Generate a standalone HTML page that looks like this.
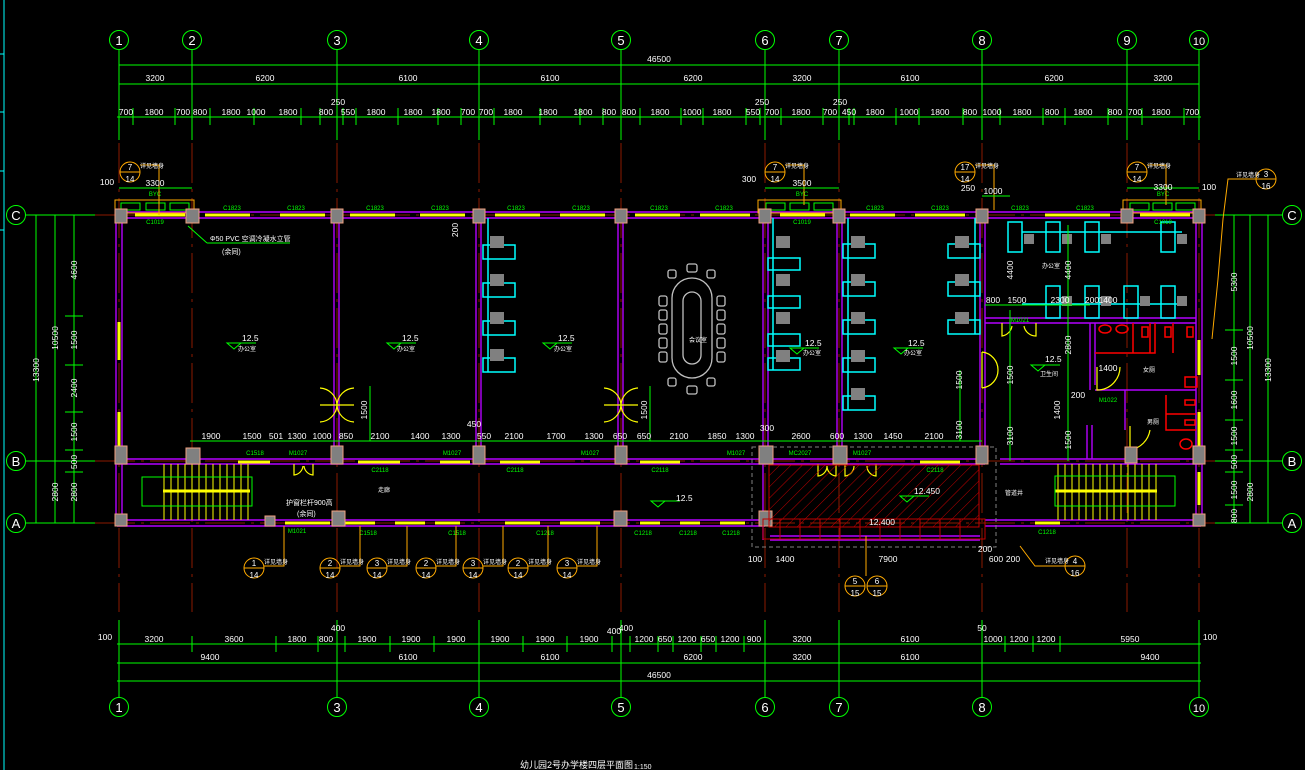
<!DOCTYPE html>
<html><head><meta charset="utf-8"><style>
html,body{margin:0;padding:0;background:#000;}
svg{display:block;}
text{font-family:"Liberation Sans","Noto Sans CJK SC",sans-serif;}
.w{fill:#fff;font-size:8.5px;}
.g{fill:#00ff00;font-size:6px;}
.gl{stroke:#00ff00;stroke-width:1;fill:none;}
.rd{stroke:#8b1a00;stroke-width:1;stroke-dasharray:40 6 3 6;}
.mg{stroke:#b400ff;stroke-width:1.4;fill:none;}
.yl{stroke:#ffff00;stroke-width:3;}
.cy{stroke:#00ffff;stroke-width:1.5;fill:none;}
.col{fill:#808080;stroke:#f0a080;stroke-width:1;}
.or{stroke:#ffaa00;fill:none;stroke-width:1;}
.gy{stroke:#c0c0c0;fill:none;stroke-width:1.3;}
.red{stroke:#ff0000;fill:none;stroke-width:1.5;}
</style></head><body>
<svg width="1305" height="770" viewBox="0 0 1305 770" xmlns="http://www.w3.org/2000/svg">
<rect width="1305" height="770" fill="#000"/>
<line x1="4" y1="0" x2="4" y2="770" stroke="#00ffff"/>
<line x1="0" y1="54" x2="4" y2="54" stroke="#00ffff"/><line x1="0" y1="112" x2="4" y2="112" stroke="#00ffff"/><line x1="0" y1="171" x2="4" y2="171" stroke="#00ffff"/><line x1="0" y1="230" x2="4" y2="230" stroke="#00ffff"/>

<g class="gl">
<line x1="119" y1="50" x2="119" y2="140"/><line x1="192" y1="50" x2="192" y2="140"/><line x1="337" y1="50" x2="337" y2="140"/><line x1="479" y1="50" x2="479" y2="140"/><line x1="621" y1="50" x2="621" y2="140"/><line x1="765" y1="50" x2="765" y2="140"/><line x1="839" y1="50" x2="839" y2="140"/><line x1="982" y1="50" x2="982" y2="140"/><line x1="1127" y1="50" x2="1127" y2="140"/><line x1="1199" y1="50" x2="1199" y2="140"/>
<line x1="119" y1="620" x2="119" y2="697"/><line x1="337" y1="620" x2="337" y2="697"/><line x1="479" y1="620" x2="479" y2="697"/><line x1="621" y1="620" x2="621" y2="697"/><line x1="765" y1="620" x2="765" y2="697"/><line x1="839" y1="620" x2="839" y2="697"/><line x1="982" y1="620" x2="982" y2="697"/><line x1="1199" y1="620" x2="1199" y2="697"/>
<line x1="26" y1="215" x2="100" y2="215"/><line x1="26" y1="461" x2="100" y2="461"/><line x1="26" y1="523" x2="100" y2="523"/>
<line x1="1215" y1="215" x2="1282" y2="215"/><line x1="1215" y1="461" x2="1282" y2="461"/><line x1="1215" y1="523" x2="1282" y2="523"/>
</g>
<g class="rd">
<line x1="119" y1="143" x2="119" y2="612"/><line x1="192" y1="143" x2="192" y2="612"/><line x1="337" y1="143" x2="337" y2="612"/><line x1="479" y1="143" x2="479" y2="612"/><line x1="621" y1="143" x2="621" y2="612"/><line x1="765" y1="143" x2="765" y2="612"/><line x1="839" y1="143" x2="839" y2="612"/><line x1="982" y1="143" x2="982" y2="612"/><line x1="1127" y1="143" x2="1127" y2="612"/><line x1="1199" y1="143" x2="1199" y2="612"/>
<line x1="95" y1="215" x2="1215" y2="215"/><line x1="95" y1="461" x2="1215" y2="461"/><line x1="95" y1="523" x2="1215" y2="523"/>
</g>

<g stroke="#00ff00" fill="none">
<circle cx="119" cy="40" r="9.5"/><circle cx="192" cy="40" r="9.5"/><circle cx="337" cy="40" r="9.5"/><circle cx="479" cy="40" r="9.5"/><circle cx="621" cy="40" r="9.5"/><circle cx="765" cy="40" r="9.5"/><circle cx="839" cy="40" r="9.5"/><circle cx="982" cy="40" r="9.5"/><circle cx="1127" cy="40" r="9.5"/><circle cx="1199" cy="40" r="9.5"/>
<circle cx="119" cy="707" r="9.5"/><circle cx="337" cy="707" r="9.5"/><circle cx="479" cy="707" r="9.5"/><circle cx="621" cy="707" r="9.5"/><circle cx="765" cy="707" r="9.5"/><circle cx="839" cy="707" r="9.5"/><circle cx="982" cy="707" r="9.5"/><circle cx="1199" cy="707" r="9.5"/>
<circle cx="16" cy="215" r="9.5"/><circle cx="16" cy="461" r="9.5"/><circle cx="16" cy="523" r="9.5"/>
<circle cx="1292" cy="215" r="9.5"/><circle cx="1292" cy="461" r="9.5"/><circle cx="1292" cy="523" r="9.5"/>
</g>
<g fill="#fff" font-size="13" text-anchor="middle">
<text x="119" y="45">1</text><text x="192" y="45">2</text><text x="337" y="45">3</text><text x="479" y="45">4</text><text x="621" y="45">5</text><text x="765" y="45">6</text><text x="839" y="45">7</text><text x="982" y="45">8</text><text x="1127" y="45">9</text><text x="1199" y="45" font-size="11">10</text>
<text x="119" y="712">1</text><text x="337" y="712">3</text><text x="479" y="712">4</text><text x="621" y="712">5</text><text x="765" y="712">6</text><text x="839" y="712">7</text><text x="982" y="712">8</text><text x="1199" y="712" font-size="11">10</text>
<text x="16" y="220">C</text><text x="16" y="466">B</text><text x="16" y="528">A</text>
<text x="1292" y="220">C</text><text x="1292" y="466">B</text><text x="1292" y="528">A</text>
</g>

<g class="gl">
<line x1="119" y1="65" x2="1199" y2="65"/><line x1="119" y1="84" x2="1199" y2="84"/><line x1="117" y1="117" x2="1201" y2="117"/>
<line x1="133" y1="108" x2="133" y2="125"/><line x1="175" y1="108" x2="175" y2="125"/><line x1="210" y1="108" x2="210" y2="125"/><line x1="254" y1="108" x2="254" y2="125"/><line x1="301" y1="108" x2="301" y2="125"/><line x1="320" y1="108" x2="320" y2="125"/><line x1="343" y1="108" x2="343" y2="125"/><line x1="356" y1="108" x2="356" y2="125"/><line x1="398" y1="108" x2="398" y2="125"/><line x1="438" y1="108" x2="438" y2="125"/><line x1="461" y1="108" x2="461" y2="125"/><line x1="494" y1="108" x2="494" y2="125"/><line x1="540" y1="108" x2="540" y2="125"/><line x1="580" y1="108" x2="580" y2="125"/><line x1="603" y1="108" x2="603" y2="125"/><line x1="640" y1="108" x2="640" y2="125"/><line x1="681" y1="108" x2="681" y2="125"/><line x1="703" y1="108" x2="703" y2="125"/><line x1="746" y1="108" x2="746" y2="125"/><line x1="760" y1="108" x2="760" y2="125"/><line x1="781" y1="108" x2="781" y2="125"/><line x1="823" y1="108" x2="823" y2="125"/><line x1="849" y1="108" x2="849" y2="125"/><line x1="854" y1="108" x2="854" y2="125"/><line x1="896" y1="108" x2="896" y2="125"/><line x1="919" y1="108" x2="919" y2="125"/><line x1="963" y1="108" x2="963" y2="125"/><line x1="1000" y1="108" x2="1000" y2="125"/><line x1="1043" y1="108" x2="1043" y2="125"/><line x1="1065" y1="108" x2="1065" y2="125"/><line x1="1108" y1="108" x2="1108" y2="125"/><line x1="1142" y1="108" x2="1142" y2="125"/><line x1="1184" y1="108" x2="1184" y2="125"/>
</g>
<g class="w" text-anchor="middle">
<text x="659" y="62">46500</text>
<text x="155" y="81">3200</text><text x="265" y="81">6200</text><text x="408" y="81">6100</text><text x="550" y="81">6100</text><text x="693" y="81">6200</text><text x="802" y="81">3200</text><text x="910" y="81">6100</text><text x="1054" y="81">6200</text><text x="1163" y="81">3200</text>
<text x="338" y="105">250</text><text x="762" y="105">250</text><text x="840" y="105">250</text>
<text x="126" y="115">700</text><text x="154" y="115">1800</text><text x="183" y="115">700</text><text x="200" y="115">800</text><text x="231" y="115">1800</text><text x="256" y="115">1000</text><text x="288" y="115">1800</text><text x="326" y="115">800</text><text x="348" y="115">550</text><text x="376" y="115">1800</text><text x="413" y="115">1800</text><text x="441" y="115">1800</text><text x="468" y="115">700</text><text x="486" y="115">700</text><text x="513" y="115">1800</text><text x="548" y="115">1800</text><text x="583" y="115">1800</text><text x="609" y="115">800</text><text x="629" y="115">800</text><text x="660" y="115">1800</text><text x="692" y="115">1000</text><text x="722" y="115">1800</text><text x="753" y="115">550</text><text x="772" y="115">700</text><text x="801" y="115">1800</text><text x="830" y="115">700</text><text x="849" y="115">450</text><text x="875" y="115">1800</text><text x="909" y="115">1000</text><text x="940" y="115">1800</text><text x="970" y="115">800</text><text x="992" y="115">1000</text><text x="1022" y="115">1800</text><text x="1052" y="115">800</text><text x="1083" y="115">1800</text><text x="1115" y="115">800</text><text x="1135" y="115">700</text><text x="1161" y="115">1800</text><text x="1192" y="115">700</text>
</g>

<g class="gl">
<line x1="36" y1="215" x2="36" y2="523"/><line x1="55" y1="215" x2="55" y2="523"/><line x1="74" y1="215" x2="74" y2="523"/>
<line x1="65" y1="316" x2="83" y2="316"/><line x1="65" y1="365" x2="83" y2="365"/><line x1="65" y1="412" x2="83" y2="412"/><line x1="65" y1="450" x2="83" y2="450"/><line x1="65" y1="472" x2="83" y2="472"/>
<line x1="1234" y1="215" x2="1234" y2="523"/><line x1="1250" y1="215" x2="1250" y2="523"/><line x1="1268" y1="215" x2="1268" y2="523"/>
<line x1="1225" y1="330" x2="1243" y2="330"/><line x1="1225" y1="380" x2="1243" y2="380"/><line x1="1225" y1="420" x2="1243" y2="420"/><line x1="1225" y1="450" x2="1243" y2="450"/><line x1="1225" y1="472" x2="1243" y2="472"/><line x1="1225" y1="505" x2="1243" y2="505"/>
</g>
<g class="w" text-anchor="middle">
<text transform="translate(39,370) rotate(-90)">13300</text><text transform="translate(58,338) rotate(-90)">10500</text><text transform="translate(58,492) rotate(-90)">2800</text>
<text transform="translate(77,270) rotate(-90)">4600</text><text transform="translate(77,340) rotate(-90)">1500</text><text transform="translate(77,388) rotate(-90)">2400</text><text transform="translate(77,432) rotate(-90)">1500</text><text transform="translate(77,462) rotate(-90)">500</text><text transform="translate(77,492) rotate(-90)">2800</text>
<text transform="translate(1237,282) rotate(-90)">5300</text><text transform="translate(1237,356) rotate(-90)">1500</text><text transform="translate(1237,400) rotate(-90)">1600</text><text transform="translate(1237,436) rotate(-90)">1500</text><text transform="translate(1237,462) rotate(-90)">500</text><text transform="translate(1237,490) rotate(-90)">1500</text><text transform="translate(1237,516) rotate(-90)">800</text>
<text transform="translate(1253,338) rotate(-90)">10500</text><text transform="translate(1253,492) rotate(-90)">2800</text><text transform="translate(1271,370) rotate(-90)">13300</text>
</g>

<g class="mg">
<line x1="117" y1="212" x2="1201" y2="212"/><line x1="117" y1="218" x2="1201" y2="218"/>
<line x1="117" y1="459" x2="985" y2="459"/><line x1="117" y1="464" x2="985" y2="464"/>
<line x1="1000" y1="459" x2="1201" y2="459"/><line x1="1000" y1="464" x2="1201" y2="464"/>
<line x1="117" y1="520" x2="765" y2="520"/><line x1="117" y1="526" x2="765" y2="526"/>
<line x1="985" y1="520" x2="1201" y2="520"/><line x1="985" y1="526" x2="1201" y2="526"/>
<line x1="116" y1="212" x2="116" y2="526"/><line x1="122" y1="218" x2="122" y2="520"/>
<line x1="1196" y1="218" x2="1196" y2="520"/><line x1="1202" y1="212" x2="1202" y2="526"/>
<line x1="334" y1="218" x2="334" y2="459"/><line x1="339" y1="218" x2="339" y2="459"/>
<line x1="476" y1="218" x2="476" y2="459"/><line x1="481" y1="218" x2="481" y2="459"/>
<line x1="618" y1="218" x2="618" y2="459"/><line x1="623" y1="218" x2="623" y2="459"/>
<line x1="763" y1="218" x2="763" y2="540"/><line x1="768" y1="218" x2="768" y2="459"/>
<line x1="837" y1="218" x2="837" y2="459"/><line x1="842" y1="218" x2="842" y2="459"/>
<line x1="980" y1="218" x2="980" y2="459"/><line x1="985" y1="218" x2="985" y2="459"/>
<line x1="985" y1="318" x2="1196" y2="318"/><line x1="985" y1="323" x2="1196" y2="323"/>
<line x1="1090" y1="323" x2="1090" y2="390"/><line x1="1095" y1="323" x2="1095" y2="385"/>
<line x1="1095" y1="390" x2="1196" y2="390"/><line x1="1125" y1="390" x2="1125" y2="430"/>
<line x1="1087" y1="425" x2="1087" y2="459"/><line x1="1092" y1="425" x2="1092" y2="459"/>
<line x1="770" y1="536" x2="980" y2="536"/><line x1="770" y1="540" x2="980" y2="540"/>
</g>
<g class="yl">
<line x1="135" y1="215" x2="185" y2="215"/><line x1="205" y1="215" x2="250" y2="215"/><line x1="280" y1="215" x2="325" y2="215"/><line x1="350" y1="215" x2="395" y2="215"/><line x1="420" y1="215" x2="465" y2="215"/><line x1="495" y1="215" x2="540" y2="215"/><line x1="560" y1="215" x2="605" y2="215"/><line x1="635" y1="215" x2="680" y2="215"/><line x1="700" y1="215" x2="750" y2="215"/><line x1="780" y1="215" x2="825" y2="215"/><line x1="850" y1="215" x2="895" y2="215"/><line x1="915" y1="215" x2="965" y2="215"/><line x1="1045" y1="215" x2="1110" y2="215"/><line x1="1140" y1="215" x2="1190" y2="215"/>
<line x1="119" y1="322" x2="119" y2="360"/><line x1="119" y1="412" x2="119" y2="450"/><line x1="1199" y1="340" x2="1199" y2="375"/><line x1="1199" y1="412" x2="1199" y2="450"/><line x1="1199" y1="472" x2="1199" y2="505"/>
<line x1="238" y1="462" x2="270" y2="462"/><line x1="358" y1="462" x2="400" y2="462"/><line x1="440" y1="462" x2="470" y2="462"/><line x1="500" y1="462" x2="540" y2="462"/><line x1="640" y1="462" x2="680" y2="462"/><line x1="920" y1="462" x2="960" y2="462"/>
<line x1="285" y1="523" x2="330" y2="523"/><line x1="345" y1="523" x2="375" y2="523"/><line x1="395" y1="523" x2="425" y2="523"/><line x1="435" y1="523" x2="460" y2="523"/><line x1="505" y1="523" x2="540" y2="523"/><line x1="560" y1="523" x2="600" y2="523"/><line x1="640" y1="523" x2="660" y2="523"/><line x1="680" y1="523" x2="700" y2="523"/><line x1="720" y1="523" x2="745" y2="523"/><line x1="1035" y1="523" x2="1060" y2="523"/>
</g>
<g stroke="#ffff00" fill="none" stroke-width="1.2">
<path d="M320 388 A18 18 0 0 1 337 405 L320 405 M354 388 A18 18 0 0 0 337 405 L354 405 M320 422 A18 18 0 0 0 337 405 M354 422 A18 18 0 0 1 337 405"/>
<path d="M604 388 A18 18 0 0 1 621 405 L604 405 M638 388 A18 18 0 0 0 621 405 L638 405 M604 422 A18 18 0 0 0 621 405 M638 422 A18 18 0 0 1 621 405"/>
<path d="M294 464 L294 475 A10 10 0 0 0 303 466 M313 464 L313 475 A10 10 0 0 1 304 466"/>
<path d="M818 464 L818 476 A10 10 0 0 0 827 466 M836 464 L836 476 A10 10 0 0 1 827 466"/>
<path d="M845 464 L845 476 A10 10 0 0 0 854 466 M876 464 L876 476 A10 10 0 0 1 867 466"/>
<path d="M982 352 L982 388 M982 352 A18 18 0 0 1 998 370 M982 388 A18 18 0 0 0 998 370"/>
<path d="M1097 367 L1097 390 A23 23 0 0 0 1120 367"/>
<path d="M1130 426 L1130 450 A24 24 0 0 0 1150 430"/>
<path d="M1002 323 L1002 336 A12 12 0 0 0 1012 326 M1036 323 L1036 336 A12 12 0 0 1 1024 326"/>
</g>
<g class="or" stroke-width="2"><rect x="115" y="200" width="79" height="13"/><rect x="758" y="200" width="83" height="13"/><rect x="1123" y="200" width="78" height="13"/></g>
<g stroke="#00ff00" fill="none"><rect x="121" y="203" width="19" height="7"/><rect x="146" y="203" width="19" height="7"/><rect x="170" y="203" width="19" height="7"/><rect x="766" y="203" width="19" height="7"/><rect x="790" y="203" width="19" height="7"/><rect x="814" y="203" width="19" height="7"/><rect x="1130" y="203" width="19" height="7"/><rect x="1153" y="203" width="19" height="7"/><rect x="1176" y="203" width="19" height="7"/></g>
<g stroke="#ffff00" stroke-width="1">
<path d="M164 464V520M171 464V520M178 464V520M185 464V520M192 464V520M199 464V520M206 464V520M213 464V520M220 464V520M227 464V520M234 464V520M241 464V520M248 464V520"/>
<path d="M1058 464V520M1065 464V520M1072 464V520M1079 464V520M1086 464V520M1093 464V520M1100 464V520M1107 464V520M1114 464V520M1121 464V520M1128 464V520M1135 464V520M1142 464V520M1149 464V520M1156 464V520"/>
<line x1="163" y1="491" x2="250" y2="491" stroke-width="3"/><line x1="1055" y1="491" x2="1157" y2="491" stroke-width="3"/>
</g>
<g class="gl"><rect x="142" y="477" width="110" height="29"/><rect x="1055" y="476" width="120" height="30"/></g>
<g class="col">
<rect x="115" y="209" width="12" height="14"/><rect x="186" y="209" width="13" height="14"/><rect x="331" y="209" width="12" height="14"/><rect x="473" y="209" width="12" height="14"/><rect x="615" y="209" width="12" height="14"/><rect x="759" y="209" width="12" height="14"/><rect x="833" y="209" width="12" height="14"/><rect x="976" y="209" width="12" height="14"/><rect x="1121" y="209" width="12" height="14"/><rect x="1193" y="209" width="12" height="14"/>
<rect x="115" y="446" width="12" height="18"/><rect x="186" y="448" width="14" height="16"/><rect x="331" y="446" width="12" height="18"/><rect x="473" y="446" width="12" height="18"/><rect x="615" y="446" width="12" height="18"/><rect x="759" y="446" width="14" height="18"/><rect x="833" y="446" width="14" height="18"/><rect x="976" y="446" width="12" height="18"/><rect x="1125" y="447" width="12" height="16"/><rect x="1193" y="446" width="12" height="18"/>
<rect x="115" y="514" width="12" height="12"/><rect x="265" y="516" width="10" height="10"/><rect x="332" y="511" width="13" height="15"/><rect x="614" y="511" width="13" height="15"/><rect x="759" y="511" width="13" height="15"/><rect x="1193" y="514" width="12" height="12"/>
</g>
<defs><pattern id="h" width="8" height="8" patternUnits="userSpaceOnUse" patternTransform="rotate(45)"><line x1="0" y1="0" x2="0" y2="8" stroke="#c00000" stroke-width="1"/></pattern></defs>
<rect x="769" y="465" width="210" height="62" fill="url(#h)" stroke="#c00000"/>
<g stroke="#c00000" fill="none"><rect x="763" y="519" width="222" height="20"/><path d="M780 519V539M800 519V539M820 519V539M840 519V539M860 519V539M880 519V539M900 519V539M920 519V539M940 519V539M960 519V539"/></g>
<rect x="752" y="447" width="244" height="100" fill="none" stroke="#808080" stroke-dasharray="4 3"/>
<g class="cy">
<path d="M483 245h32v14h-32zM483 283h32v14h-32zM483 321h32v14h-32zM483 358h32v14h-32zM488 218V372"/>
<path d="M768 258h32v12h-32zM768 296h32v12h-32zM768 334h32v12h-32zM768 358h32v12h-32zM773 218V370"/>
<path d="M843 244h32v14h-32zM843 282h32v14h-32zM843 320h32v14h-32zM843 358h32v14h-32zM843 396h32v14h-32zM848 218V410"/>
<path d="M948 244h32v14h-32zM948 282h32v14h-32zM948 320h32v14h-32zM975 218V334"/>
<path d="M1008 222h14v30h-14zM1046 222h14v30h-14zM1085 222h14v30h-14zM1161 222h14v30h-14zM1046 286h14v32h-14zM1085 286h14v32h-14zM1124 286h14v32h-14zM1161 286h14v32h-14zM1022 232h160M1022 304h160"/>
</g>
<g fill="#808080">
<rect x="490" y="236" width="14" height="12"/><rect x="490" y="274" width="14" height="12"/><rect x="490" y="312" width="14" height="12"/><rect x="490" y="349" width="14" height="12"/>
<rect x="776" y="236" width="14" height="12"/><rect x="776" y="274" width="14" height="12"/><rect x="776" y="312" width="14" height="12"/><rect x="776" y="350" width="14" height="12"/>
<rect x="851" y="236" width="14" height="12"/><rect x="851" y="274" width="14" height="12"/><rect x="851" y="312" width="14" height="12"/><rect x="851" y="350" width="14" height="12"/><rect x="851" y="388" width="14" height="12"/>
<rect x="955" y="236" width="14" height="12"/><rect x="955" y="274" width="14" height="12"/><rect x="955" y="312" width="14" height="12"/>
<rect x="1024" y="234" width="10" height="10"/><rect x="1062" y="234" width="10" height="10"/><rect x="1101" y="234" width="10" height="10"/><rect x="1177" y="234" width="10" height="10"/><rect x="1062" y="296" width="10" height="10"/><rect x="1101" y="296" width="10" height="10"/><rect x="1140" y="296" width="10" height="10"/><rect x="1177" y="296" width="10" height="10"/>
</g>
<g class="gy">
<rect x="672" y="278" width="40" height="100" rx="20"/><rect x="683" y="292" width="18" height="72" rx="9"/>
<rect x="659" y="296" width="8" height="10" rx="2"/><rect x="659" y="310" width="8" height="10" rx="2"/><rect x="659" y="324" width="8" height="10" rx="2"/><rect x="659" y="338" width="8" height="10" rx="2"/><rect x="659" y="352" width="8" height="10" rx="2"/>
<rect x="717" y="296" width="8" height="10" rx="2"/><rect x="717" y="310" width="8" height="10" rx="2"/><rect x="717" y="324" width="8" height="10" rx="2"/><rect x="717" y="338" width="8" height="10" rx="2"/><rect x="717" y="352" width="8" height="10" rx="2"/>
<rect x="687" y="264" width="10" height="8" rx="2"/><rect x="687" y="386" width="10" height="8" rx="2"/>
<rect x="668" y="270" width="8" height="8" rx="2"/><rect x="707" y="270" width="8" height="8" rx="2"/><rect x="668" y="378" width="8" height="8" rx="2"/><rect x="707" y="378" width="8" height="8" rx="2"/>
</g>
<g class="red">
<path d="M1095 353h60v-30M1133 323v30M1150 323v30M1173 323v30"/><ellipse cx="1105" cy="329" rx="6" ry="4"/><ellipse cx="1122" cy="329" rx="6" ry="4"/>
<rect x="1142" y="327" width="6" height="10"/><rect x="1165" y="327" width="6" height="10"/><rect x="1187" y="327" width="6" height="10"/>
<rect x="1185" y="377" width="12" height="10"/><path d="M1166 395v35h30M1166 414h30"/><rect x="1185" y="400" width="10" height="5"/><rect x="1185" y="420" width="10" height="5"/><ellipse cx="1186" cy="444" rx="6" ry="5"/>
</g>
<g class="gl"><line x1="190" y1="441" x2="982" y2="441"/><line x1="370" y1="386" x2="370" y2="441"/><line x1="650" y1="386" x2="650" y2="441"/><line x1="960" y1="370" x2="960" y2="441"/><line x1="1010" y1="310" x2="1010" y2="461"/><line x1="1068" y1="225" x2="1068" y2="461"/><line x1="985" y1="305" x2="1090" y2="305"/></g>
<g class="w" text-anchor="middle" font-size="8">
<text x="211" y="439">1900</text><text x="252" y="439">1500</text><text x="276" y="439">501</text><text x="297" y="439">1300</text><text x="322" y="439">1000</text><text x="346" y="439">850</text><text x="380" y="439">2100</text><text x="420" y="439">1400</text><text x="451" y="439">1300</text><text x="484" y="439">550</text><text x="514" y="439">2100</text><text x="556" y="439">1700</text><text x="594" y="439">1300</text><text x="620" y="439">650</text><text x="644" y="439">650</text><text x="679" y="439">2100</text><text x="717" y="439">1850</text><text x="745" y="439">1300</text><text x="767" y="431">300</text><text x="801" y="439">2600</text><text x="837" y="439">600</text><text x="863" y="439">1300</text><text x="893" y="439">1450</text><text x="934" y="439">2100</text><text x="474" y="427">450</text>
<text transform="translate(367,410) rotate(-90)">1500</text><text transform="translate(647,410) rotate(-90)">1500</text><text transform="translate(962,380) rotate(-90)">1500</text><text transform="translate(962,430) rotate(-90)">3100</text><text transform="translate(458,230) rotate(-90)">200</text>
<text transform="translate(1013,270) rotate(-90)">4400</text><text transform="translate(1071,270) rotate(-90)">4400</text><text transform="translate(1013,375) rotate(-90)">1500</text><text transform="translate(1013,436) rotate(-90)">3100</text><text transform="translate(1071,345) rotate(-90)">2800</text><text transform="translate(1060,410) rotate(-90)">1400</text><text transform="translate(1071,440) rotate(-90)">1500</text>
<text x="993" y="303">800</text><text x="1017" y="303">1500</text><text x="1060" y="303">2300</text><text x="1092" y="303">200</text><text x="1108" y="303">1400</text><text x="1108" y="371">1400</text><text x="1078" y="398">200</text>
</g>
<g stroke="#00ff00" fill="none"><path d="M227 343l7 6 7-6zM241 343h15M387 343l7 6 7-6zM401 343h15M543 343l7 6 7-6zM557 343h15M790 348l7 6 7-6zM804 348h15M894 348l7 6 7-6zM908 348h15M1031 365l7 6 7-6zM1045 365h15M651 501l7 6 7-6zM665 501h15M900 496l7 6 7-6zM914 496h15"/></g>
<g class="w" font-size="8"><text x="242" y="341">12.5</text><text x="402" y="341">12.5</text><text x="558" y="341">12.5</text><text x="805" y="346">12.5</text><text x="908" y="346">12.5</text><text x="1045" y="362">12.5</text><text x="676" y="501">12.5</text><text x="914" y="494">12.450</text><text x="869" y="525">12.400</text></g>
<g fill="#fff" font-size="6"><text x="238" y="351">办公室</text><text x="397" y="351">办公室</text><text x="554" y="351">办公室</text><text x="689" y="342">会议室</text><text x="803" y="355">办公室</text><text x="904" y="355">办公室</text><text x="1040" y="376">卫生间</text><text x="378" y="492">走廊</text><text x="1042" y="268">办公室</text><text x="1143" y="372">女厕</text><text x="1147" y="424">男厕</text><text x="1005" y="495">管道井</text>
<text x="210" y="241" font-size="7">Φ50 PVC 空调冷凝水立管</text><text x="222" y="254" font-size="7">(余同)</text><text x="286" y="505" font-size="7">护窗栏杆900高</text><text x="297" y="516" font-size="7">(余同)</text></g>
<line x1="188" y1="226" x2="207" y2="243" stroke="#00ff00"/><line x1="207" y1="243" x2="290" y2="243" stroke="#00ff00"/>
<g class="g" text-anchor="middle">
<text x="155" y="224">C1019</text><text x="232" y="210">C1823</text><text x="296" y="210">C1823</text><text x="375" y="210">C1823</text><text x="440" y="210">C1823</text><text x="516" y="210">C1823</text><text x="581" y="210">C1823</text><text x="659" y="210">C1823</text><text x="724" y="210">C1823</text><text x="802" y="224">C1019</text><text x="875" y="210">C1823</text><text x="940" y="210">C1823</text><text x="1020" y="210">C1823</text><text x="1085" y="210">C1823</text><text x="1163" y="224">C1019</text>
<text x="155" y="196">BYC</text><text x="802" y="196">BYC</text><text x="1163" y="196">BYC</text>
<text x="255" y="455">C1518</text><text x="298" y="455">M1027</text><text x="380" y="472">C2118</text><text x="452" y="455">M1027</text><text x="515" y="472">C2118</text><text x="590" y="455">M1027</text><text x="660" y="472">C2118</text><text x="736" y="455">M1027</text><text x="800" y="455">MC2027</text><text x="862" y="455">M1027</text><text x="935" y="472">C2118</text><text x="1020" y="322">M1021</text><text x="1108" y="402">M1022</text>
<text x="297" y="533">M1021</text><text x="368" y="535">C1518</text><text x="457" y="535">C1518</text><text x="545" y="535">C1218</text><text x="643" y="535">C1218</text><text x="688" y="535">C1218</text><text x="731" y="535">C1218</text><text x="1047" y="534">C1218</text>
</g>
<g class="or">
<circle cx="130" cy="172" r="10"/><line x1="120" y1="172" x2="140" y2="172"/><path d="M140 165h19v50"/>
<circle cx="775" cy="172" r="10"/><line x1="765" y1="172" x2="785" y2="172"/><path d="M785 165h19v40"/>
<circle cx="965" cy="172" r="10"/><line x1="955" y1="172" x2="975" y2="172"/><path d="M975 165h19v45"/>
<circle cx="1137" cy="172" r="10"/><line x1="1127" y1="172" x2="1147" y2="172"/><path d="M1147 165h19v40"/>
<circle cx="1266" cy="179" r="10"/><line x1="1256" y1="179" x2="1276" y2="179"/><path d="M1256 179h-28l-5 40-5 60-6 60"/>
<circle cx="254" cy="568" r="10"/><line x1="244" y1="568" x2="264" y2="568"/><path d="M264 566h20v-40"/>
<circle cx="330" cy="568" r="10"/><line x1="320" y1="568" x2="340" y2="568"/><path d="M340 566h20v-40"/>
<circle cx="377" cy="568" r="10"/><line x1="367" y1="568" x2="387" y2="568"/><path d="M387 566h20v-40"/>
<circle cx="426" cy="568" r="10"/><line x1="416" y1="568" x2="436" y2="568"/><path d="M436 566h20v-40"/>
<circle cx="473" cy="568" r="10"/><line x1="463" y1="568" x2="483" y2="568"/><path d="M483 566h20v-40"/>
<circle cx="518" cy="568" r="10"/><line x1="508" y1="568" x2="528" y2="568"/><path d="M528 566h20v-40"/>
<circle cx="567" cy="568" r="10"/><line x1="557" y1="568" x2="577" y2="568"/><path d="M577 566h20v-40"/>
<circle cx="855" cy="586" r="10"/><line x1="845" y1="586" x2="865" y2="586"/><circle cx="877" cy="586" r="10"/><line x1="867" y1="586" x2="887" y2="586"/><path d="M866 576v-40"/>
<circle cx="1075" cy="566" r="10"/><line x1="1065" y1="566" x2="1085" y2="566"/><path d="M1065 566h-30l-15-20"/>
</g>
<g fill="#fff" font-size="8" text-anchor="middle">
<text x="130" y="170">7</text><text x="130" y="182">14</text><text x="775" y="170">7</text><text x="775" y="182">14</text><text x="965" y="170">17</text><text x="965" y="182">14</text><text x="1137" y="170">7</text><text x="1137" y="182">14</text><text x="1266" y="177">3</text><text x="1266" y="189">16</text>
<text x="254" y="566">1</text><text x="254" y="578">14</text><text x="330" y="566">2</text><text x="330" y="578">14</text><text x="377" y="566">3</text><text x="377" y="578">14</text><text x="426" y="566">2</text><text x="426" y="578">14</text><text x="473" y="566">3</text><text x="473" y="578">14</text><text x="518" y="566">2</text><text x="518" y="578">14</text><text x="567" y="566">3</text><text x="567" y="578">14</text>
<text x="855" y="584">5</text><text x="855" y="596">15</text><text x="877" y="584">6</text><text x="877" y="596">15</text><text x="1075" y="564">4</text><text x="1075" y="576">16</text>
</g>
<g fill="#fff" font-size="6"><text x="140" y="168">详见墙身</text><text x="785" y="168">详见墙身</text><text x="975" y="168">详见墙身</text><text x="1147" y="168">详见墙身</text><text x="1236" y="177">详见墙身</text><text x="1045" y="563">详见墙身</text><text x="264" y="564">详见墙身</text><text x="340" y="564">详见墙身</text><text x="387" y="564">详见墙身</text><text x="436" y="564">详见墙身</text><text x="483" y="564">详见墙身</text><text x="528" y="564">详见墙身</text><text x="577" y="564">详见墙身</text></g>
<g class="gl"><line x1="119" y1="188" x2="192" y2="188"/><line x1="765" y1="188" x2="839" y2="188"/><line x1="1127" y1="188" x2="1199" y2="188"/><line x1="982" y1="196" x2="1010" y2="196"/></g>
<g class="w" font-size="8" text-anchor="middle"><text x="155" y="186">3300</text><text x="802" y="186">3500</text><text x="1163" y="190">3300</text><text x="993" y="194">1000</text><text x="107" y="185">100</text><text x="749" y="182">300</text><text x="968" y="191">250</text><text x="1209" y="190">100</text></g>
<g class="gl">
<line x1="117" y1="644" x2="1201" y2="644"/><line x1="117" y1="663" x2="1201" y2="663"/><line x1="117" y1="681" x2="1201" y2="681"/>
<line x1="192" y1="636" x2="192" y2="652"/><line x1="276" y1="636" x2="276" y2="652"/><line x1="318" y1="636" x2="318" y2="652"/><line x1="345" y1="636" x2="345" y2="652"/><line x1="390" y1="636" x2="390" y2="652"/><line x1="434" y1="636" x2="434" y2="652"/><line x1="523" y1="636" x2="523" y2="652"/><line x1="567" y1="636" x2="567" y2="652"/><line x1="612" y1="636" x2="612" y2="652"/><line x1="630" y1="636" x2="630" y2="652"/><line x1="658" y1="636" x2="658" y2="652"/><line x1="673" y1="636" x2="673" y2="652"/><line x1="701" y1="636" x2="701" y2="652"/><line x1="716" y1="636" x2="716" y2="652"/><line x1="744" y1="636" x2="744" y2="652"/><line x1="1005" y1="636" x2="1005" y2="652"/><line x1="1033" y1="636" x2="1033" y2="652"/><line x1="1060" y1="636" x2="1060" y2="652"/>
</g>
<g class="w" text-anchor="middle">
<text x="105" y="640">100</text><text x="154" y="642">3200</text><text x="234" y="642">3600</text><text x="297" y="642">1800</text><text x="326" y="642">800</text><text x="367" y="642">1900</text><text x="411" y="642">1900</text><text x="456" y="642">1900</text><text x="500" y="642">1900</text><text x="545" y="642">1900</text><text x="589" y="642">1900</text><text x="614" y="634">400</text><text x="626" y="631">400</text><text x="644" y="642">1200</text><text x="665" y="642">650</text><text x="687" y="642">1200</text><text x="708" y="642">650</text><text x="730" y="642">1200</text><text x="754" y="642">900</text><text x="802" y="642">3200</text><text x="910" y="642">6100</text><text x="993" y="642">1000</text><text x="1019" y="642">1200</text><text x="1046" y="642">1200</text><text x="1130" y="642">5950</text><text x="1210" y="640">100</text><text x="338" y="631">400</text><text x="982" y="631">50</text>
<text x="210" y="660">9400</text><text x="408" y="660">6100</text><text x="550" y="660">6100</text><text x="693" y="660">6200</text><text x="802" y="660">3200</text><text x="910" y="660">6100</text><text x="1150" y="660">9400</text>
<text x="659" y="678">46500</text>
<text x="785" y="562">1400</text><text x="888" y="562">7900</text><text x="996" y="562">600</text><text x="755" y="562">100</text><text x="985" y="552">200</text><text x="1013" y="562">200</text>
</g>
<text x="520" y="768" fill="#fff" font-size="9">幼儿园2号办学楼四层平面图</text><text x="634" y="769" fill="#fff" font-size="7">1:150</text>
</svg>
</body></html>
